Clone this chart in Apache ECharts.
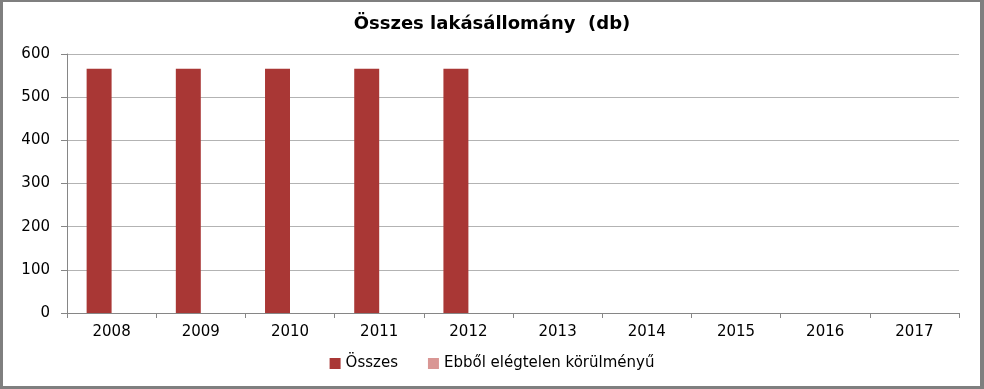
<!DOCTYPE html>
<html>
<head>
<meta charset="utf-8">
<script src="https://cdn.jsdelivr.net/npm/echarts@6/dist/echarts.min.js"></script>
<style>
html,body{margin:0;padding:0;background:#fff;}
#frame{position:absolute;left:0;top:0;width:984px;height:389px;box-sizing:border-box;
 border-left:3px solid #7f7f7f;border-top:2px solid #7f7f7f;border-right:4px solid #7f7f7f;border-bottom:3px solid #7f7f7f;pointer-events:none;z-index:2;}
#chart{position:absolute;left:0;top:0;width:984px;height:389px;}
</style>
</head>
<body>
<div id="chart"></div>
<div id="frame"></div>
<script>
const categories = ['2008','2009','2010','2011','2012','2013','2014','2015','2016','2017'];
const osszes = [566, 566, 566, 566, 566, null, null, null, null, null];
const elegtelen = [null, null, null, null, null, null, null, null, null, null];
const yTicks = [0, 100, 200, 300, 400, 500, 600];
const titleText = 'Összes lakásállomány  (db)';
const seriesNames = ['Összes', 'Ebből elégtelen körülményű'];

const font = 'DejaVu Sans';
const chart = echarts.init(document.getElementById('chart'), null, {renderer:'canvas'});
chart.setOption({
  animation:false,
  backgroundColor:'#ffffff',
  title:{text:titleText,left:'center',top:10,
    textStyle:{fontFamily:font,fontWeight:'bold',fontSize:18,color:'#000'}},
  grid:{left:67,right:25,top:54,bottom:76,containLabel:false},
  legend:{bottom:13,left:'center',itemWidth:11,itemHeight:11,itemGap:30,icon:'rect',
    textStyle:{fontFamily:font,fontSize:15,color:'#000'},
    data:seriesNames},
  xAxis:{type:'category',data:categories,
    axisLine:{lineStyle:{color:'#868686',width:1}},
    axisTick:{show:true,length:5,alignWithLabel:false,lineStyle:{color:'#868686'}},
    axisLabel:{fontFamily:font,fontSize:15,color:'#000',margin:12}},
  yAxis:{type:'value',min:yTicks[0],max:yTicks[yTicks.length-1],interval:100,
    axisLine:{show:true,lineStyle:{color:'#868686'}},
    axisTick:{show:true,length:6,lineStyle:{color:'#868686'}},
    splitLine:{lineStyle:{color:'#b3b3b3',width:1}},
    axisLabel:{fontFamily:font,fontSize:15,color:'#000',margin:17}},
  series:[
    {name:seriesNames[0],type:'bar',data:osszes,barGap:'0%',barCategoryGap:'44%',
     itemStyle:{color:'#A93735'}},
    {name:seriesNames[1],type:'bar',data:elegtelen,
     itemStyle:{color:'#D99694'}}
  ]
});
</script>
</body>
</html>
